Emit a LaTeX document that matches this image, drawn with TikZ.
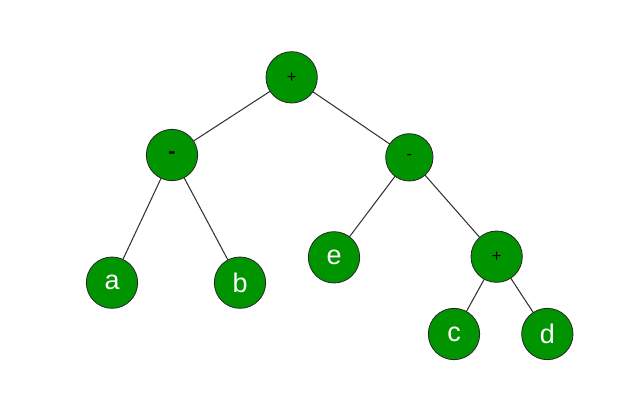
\documentclass[tikz,border=0pt]{standalone}
\usepackage{xcolor}
\usepackage{fontspec}
\setmainfont{Liberation Sans}
\usepackage{tikz}
\usepackage{tikz-network}

\definecolor{opgreen}{RGB}{0,148,0}
\SetVertexStyle[MinSize=1.54cm,LineWidth=0.7pt,LineColor=black!85,FillColor=opgreen,InnerSep=0pt]
\SetEdgeStyle[LineWidth=0.9pt,Color=black!80]

\begin{document}
\begin{tikzpicture}
        \useasboundingbox (0,0) rectangle (18.93,-12.15);

        \Vertex[x=8.75,y=-2.32,size=1.54,color=opgreen,label=+,fontsize=\fontsize{14}{16}\selectfont,fontcolor=black]{root}
        \Vertex[x=5.16,y=-4.65,size=1.54,color=opgreen,label=-,fontsize=\fontsize{18}{20}\selectfont\bfseries,fontcolor=black]{minusl}
        \Vertex[x=12.28,y=-4.72,size=1.42,color=opgreen,label=-,fontsize=\fontsize{14}{16}\selectfont,fontcolor=black]{minusr}
        \Vertex[x=3.36,y=-8.48,size=1.54,color=opgreen,label=a,fontsize=\fontsize{23}{26}\selectfont,fontcolor=white]{a}
        \Vertex[x=7.20,y=-8.48,size=1.54,color=opgreen,label=b,fontsize=\fontsize{23}{26}\selectfont,fontcolor=white]{b}
        \Vertex[x=10.02,y=-7.72,size=1.54,color=opgreen,label=e,fontsize=\fontsize{23}{26}\selectfont,fontcolor=white]{e}
        \Vertex[x=14.90,y=-7.70,size=1.54,color=opgreen,label=+,fontsize=\fontsize{14}{16}\selectfont,fontcolor=black]{plus}
        \Vertex[x=13.62,y=-10.02,size=1.54,color=opgreen,label=c,fontsize=\fontsize{23}{26}\selectfont,fontcolor=white]{c}
        \Vertex[x=16.42,y=-10.02,size=1.54,color=opgreen,label=d,fontsize=\fontsize{23}{26}\selectfont,fontcolor=white]{d}

        \Edge(root)(minusl)
        \Edge(root)(minusr)

        \Edge(minusl)(a)
        \Edge(minusl)(b)

        \Edge(minusr)(e)
        \Edge(minusr)(plus)

        \Edge(plus)(c)
        \Edge(plus)(d)
    \end{tikzpicture}
\end{document}
